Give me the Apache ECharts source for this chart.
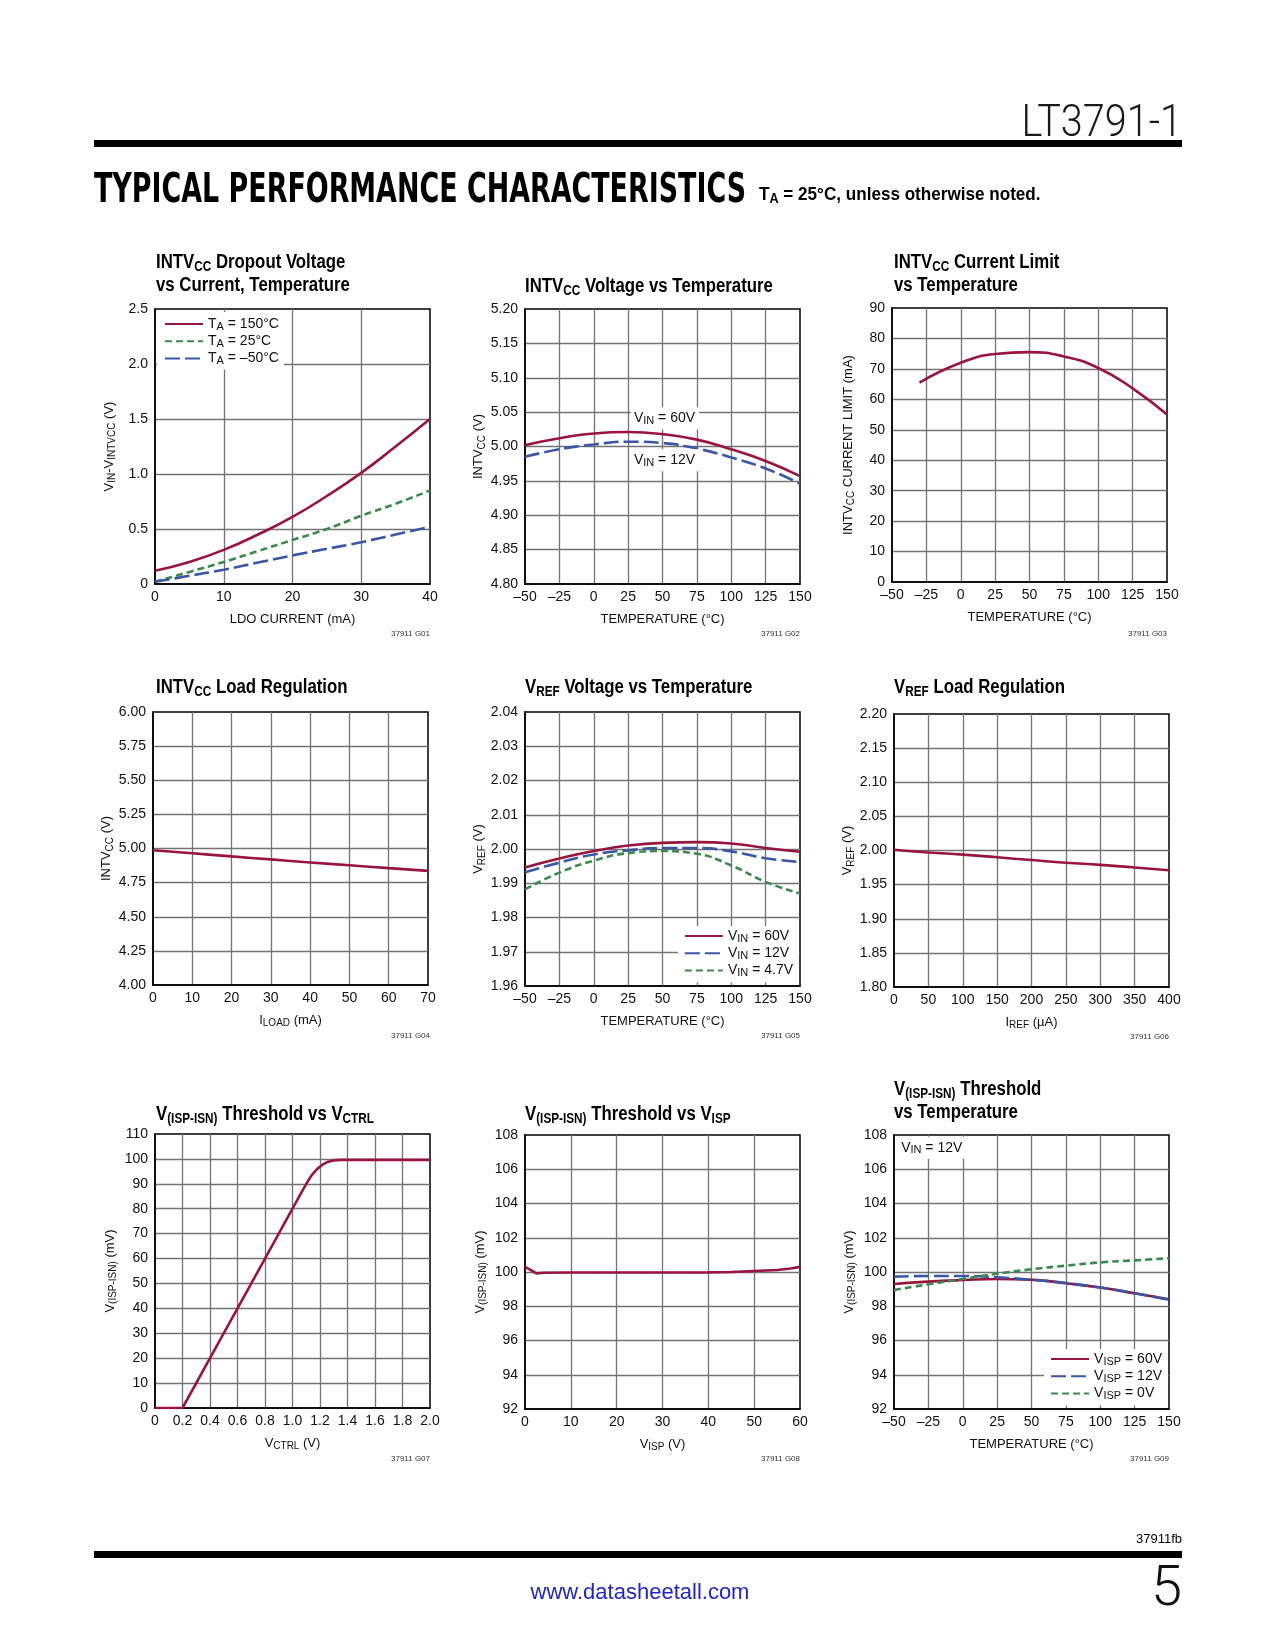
<!DOCTYPE html>
<html><head><meta charset="utf-8">
<script src="https://cdn.jsdelivr.net/npm/echarts@6/dist/echarts.min.js"></script>
<style>html,body{margin:0;padding:0;background:#fff}#c{width:1275px;height:1650px}</style>
</head><body><div id="c"></div>
<script>
// ---------- DATA ----------
// G01 dropout voltage vs LDO current
const ldoCurrent = [0, 5, 10, 15, 20, 25, 30, 35, 40];
const drop150 = [0.12, 0.20, 0.31, 0.45, 0.61, 0.80, 1.01, 1.25, 1.50];
const drop25  = [0.02, 0.11, 0.20, 0.30, 0.40, 0.50, 0.62, 0.73, 0.85];
const dropM50 = [0.02, 0.075, 0.13, 0.195, 0.26, 0.32, 0.38, 0.45, 0.52];
// G02 INTVCC vs temperature
const tempX = [-50, -25, 0, 25, 50, 75, 100, 125, 150];
const intv60 = [5.002, 5.012, 5.019, 5.021, 5.018, 5.010, 4.996, 4.979, 4.957];
const intv12 = [4.985, 4.996, 5.003, 5.007, 5.005, 4.997, 4.984, 4.968, 4.946];
const g02Labels = [[27, 5.041, 'VIN = 60V'], [27, 4.980, 'VIN = 12V']];
// G03 current limit vs temperature
const limTemp = [-30, 0, 25, 50, 75, 100, 125, 150];
const limCurrent = [65.5, 72.0, 74.9, 75.5, 74.1, 70.3, 63.6, 55.0];
// G04 INTVCC load regulation
const loadI = [0, 10, 20, 30, 40, 50, 60, 70];
const loadV = [4.987, 4.965, 4.942, 4.920, 4.898, 4.877, 4.856, 4.836];
// G05 VREF vs temperature
const vref60 = [1.9946, 1.9972, 1.9994, 2.0010, 2.0018, 2.0020, 2.0016, 2.0003, 1.9992];
const vref12 = [1.9932, 1.9960, 1.9984, 1.9996, 2.0003, 2.0003, 1.9993, 1.9973, 1.9962];
const vref47 = [1.9882, 1.9931, 1.9966, 1.9988, 1.9994, 1.9986, 1.9952, 1.9904, 1.9870];
// G06 VREF load regulation
const irefX = [0, 50, 100, 150, 200, 250, 300, 350, 400];
const vrefLoad = [2.001, 1.997, 1.994, 1.990, 1.986, 1.982, 1.979, 1.975, 1.971];
// G07 threshold vs VCTRL
const vctrl = [0, 0.1, 0.2, 0.4, 0.6, 0.8, 1.0, 1.1, 1.14, 1.18, 1.22, 1.26, 1.3, 1.35, 1.6, 1.8, 2.0];
const vthCtrl = [0, 0, 0, 20, 40, 60, 80, 90, 93.5, 96, 97.8, 98.9, 99.4, 99.6, 99.6, 99.6, 99.6];
// G08 threshold vs VISP
const vispX = [0, 1, 2.5, 4, 10, 20, 30, 40, 45, 50, 55, 58, 60];
const vthIsp = [100.3, 100.15, 99.92, 99.96, 99.97, 99.97, 99.97, 99.98, 100.0, 100.06, 100.12, 100.2, 100.3];
// G09 threshold vs temperature
const isp60 = [99.30, 99.44, 99.53, 99.59, 99.55, 99.34, 99.09, 98.76, 98.41];
const isp12 = [99.73, 99.77, 99.77, 99.69, 99.55, 99.36, 99.09, 98.76, 98.38];
const isp0  = [98.95, 99.28, 99.59, 99.90, 100.16, 100.37, 100.56, 100.68, 100.80];
const g09Labels = [[-47, 107.25, 'VIN = 12V']];

// ---------- STYLE ----------
const FF = "'Liberation Sans Narrow','Liberation Sans',Arial,sans-serif";
const RED = '#99153d', BLUE = '#3a57a7', GREEN = '#3a8b4b';
const INK = '#111';
const RA = {
  n: {fontFamily: FF, fontSize: 14, lineHeight: 16, color: INK},
  s: {fontFamily: FF, fontSize: 11, lineHeight: 6, verticalAlign: 'bottom', color: INK}
};
const RAN = {
  n: {fontFamily: FF, fontSize: 13, lineHeight: 16, color: INK},
  s: {fontFamily: FF, fontSize: 10, lineHeight: 6, verticalAlign: 'bottom', color: INK}
};
const RT = {
  b: {fontFamily: FF, fontSize: 20, fontWeight: 'bold', lineHeight: 23, fill: '#000'},
  s: {fontFamily: FF, fontSize: 14, fontWeight: 'bold', lineHeight: 12, verticalAlign: 'bottom', fill: '#000'}
};
const GRIDS = [[155,309,275,275],[525,309,275,275],[892,308,275,274],
               [153,712,275,273],[525,712,275,274],[894,714,275,273],
               [155,1134,275,274],[525,1135,275,274],[894,1135,275,274]];
const TITLES = [
  ['{b|INTV}{s|CC}{b| Dropout Voltage}\n{b|vs Current, Temperature}', 156, 251],
  ['{b|INTV}{s|CC}{b| Voltage vs Temperature}', 525, 275],
  ['{b|INTV}{s|CC}{b| Current Limit}\n{b|vs Temperature}', 894, 251],
  ['{b|INTV}{s|CC}{b| Load Regulation}', 156, 676],
  ['{b|V}{s|REF}{b| Voltage vs Temperature}', 525, 676],
  ['{b|V}{s|REF}{b| Load Regulation}', 894, 676],
  ['{b|V}{s|(ISP-ISN)}{b| Threshold vs V}{s|CTRL}', 156, 1103],
  ['{b|V}{s|(ISP-ISN)}{b| Threshold vs V}{s|ISP}', 525, 1103],
  ['{b|V}{s|(ISP-ISN)}{b| Threshold}\n{b|vs Temperature}', 894, 1078]
];
const minus = v => v < 0 ? '\u2013' + Math.abs(v) : String(v);
const f1 = v => v === 0 ? '0' : v.toFixed(1);
const f2 = v => v.toFixed(2);

function mkX(gi, min, max, interval, name, fmt) {
  return {gridIndex: gi, type: 'value', min, max, interval,
    name, nameLocation: 'middle', nameGap: 27, nameTextStyle: {rich: RAN},
    axisLine: {show: true, onZero: false, lineStyle: {color: '#000', width: 1.5}},
    axisTick: {show: false},
    splitLine: {show: true, showMinLine: false, showMaxLine: false, lineStyle: {color: '#737373', width: 1.3}},
    axisLabel: {fontFamily: FF, fontSize: 14, color: INK, margin: 6, formatter: fmt || minus}};
}
function mkY(gi, min, max, interval, name, fmt, gap) {
  return {gridIndex: gi, type: 'value', min, max, interval,
    name, nameLocation: 'middle', nameGap: gap || 37, nameTextStyle: {rich: RAN},
    axisLine: {show: true, onZero: false, lineStyle: {color: '#000', width: 1.5}},
    axisTick: {show: false},
    splitLine: {show: true, showMinLine: false, showMaxLine: false, lineStyle: {color: '#737373', width: 1.3}},
    axisLabel: {fontFamily: FF, fontSize: 14, color: INK, margin: 7, formatter: fmt || String}};
}
const zip = (xs, ys) => xs.map((x, i) => [x, ys[i]]);
function line(gi, name, xs, ys, color, type, smooth) {
  return {type: 'line', name, xAxisIndex: gi, yAxisIndex: gi, data: zip(xs, ys),
    symbol: 'none', smooth: smooth === undefined ? true : smooth, silent: true,
    lineStyle: {color, width: 2.6, type}, itemStyle: {color}, animation: false};
}
function labels(gi, arr) {
  return {type: 'scatter', xAxisIndex: gi, yAxisIndex: gi, symbolSize: 0, silent: true, z: 6,
    itemStyle: {opacity: 1, color: INK},
    data: arr.map(d => ({value: [d[0], d[1]], txt: d[2]})),
    label: {show: true, position: 'right', distance: 0, color: INK, opacity: 1, backgroundColor: '#fff', padding: [3, 4, 3, 3],
      formatter: p => '{n|V}{s|IN}{n|' + p.data.txt.slice(3) + '}', rich: RA}, animation: false};
}
const LEG = {
  'TA = 150°C': '{n|T}{s|A}{n| = 150°C}', 'TA = 25°C': '{n|T}{s|A}{n| = 25°C}', 'TA = \u201350°C': '{n|T}{s|A}{n| = \u201350°C}',
  'VIN = 60V': '{n|V}{s|IN}{n| = 60V}', 'VIN = 12V': '{n|V}{s|IN}{n| = 12V}', 'VIN = 4.7V': '{n|V}{s|IN}{n| = 4.7V}',
  'VISP = 60V': '{n|V}{s|ISP}{n| = 60V}', 'VISP = 12V': '{n|V}{s|ISP}{n| = 12V}', 'VISP = 0V': '{n|V}{s|ISP}{n| = 0V}'
};
function leg(data, pos, padding) {
  return Object.assign({data, orient: 'vertical', itemWidth: 38, itemHeight: 12, itemGap: 2.2,
    padding, backgroundColor: '#fff', selectedMode: false, borderRadius: 0,
    itemStyle: {opacity: 0}, textStyle: {rich: RA}, formatter: n => LEG[n]}, pos);
}

// fit header text width using the canvas text metrics
const HEAD = 'TYPICAL PERFORMANCE CHARACTERISTICS';
const HEAD_FONT = "bold 40px 'DejaVu Sans', sans-serif";
const mctx = document.createElement('canvas').getContext('2d');
mctx.font = HEAD_FONT;
const headScale = 652 / mctx.measureText(HEAD).width;

const titleGraphics = TITLES.map(t => ({type: 'text', x: t[1], y: t[2], scaleX: 0.84,
  style: {text: t[0], rich: RT, verticalAlign: 'top'}}));
const code = (x, y, t) => ({type: 'text', x, y, style: {text: t, font: '8px ' + FF, fill: '#333', align: 'right', verticalAlign: 'middle'}});

const option = {
  animation: false,
  backgroundColor: '#fff',
  grid: GRIDS.map(g => ({left: g[0], top: g[1], width: g[2], height: g[3], show: true, borderColor: '#000', borderWidth: 1.5})),
  xAxis: [
    mkX(0, 0, 40, 10, '{n|LDO CURRENT (mA)}'),
    mkX(1, -50, 150, 25, '{n|TEMPERATURE (°C)}'),
    mkX(2, -50, 150, 25, '{n|TEMPERATURE (°C)}'),
    mkX(3, 0, 70, 10, '{n|I}{s|LOAD}{n| (mA)}'),
    mkX(4, -50, 150, 25, '{n|TEMPERATURE (°C)}'),
    mkX(5, 0, 400, 50, '{n|I}{s|REF}{n| (µA)}'),
    mkX(6, 0, 2.0, 0.2, '{n|V}{s|CTRL}{n| (V)}', f1),
    mkX(7, 0, 60, 10, '{n|V}{s|ISP}{n| (V)}'),
    mkX(8, -50, 150, 25, '{n|TEMPERATURE (°C)}')
  ],
  yAxis: [
    mkY(0, 0, 2.5, 0.5, '{n|V}{s|IN}{n|-V}{s|INTVCC}{n| (V)}', f1, 38),
    mkY(1, 4.80, 5.20, 0.05, '{n|INTV}{s|CC}{n| (V)}', f2, 38),
    mkY(2, 0, 90, 10, '{n|INTV}{s|CC}{n| CURRENT LIMIT (mA)}', String, 36),
    mkY(3, 4.00, 6.00, 0.25, '{n|INTV}{s|CC}{n| (V)}', f2, 38),
    mkY(4, 1.96, 2.04, 0.01, '{n|V}{s|REF}{n| (V)}', f2, 38),
    mkY(5, 1.80, 2.20, 0.05, '{n|V}{s|REF}{n| (V)}', f2, 38),
    mkY(6, 0, 110, 10, '{n|V}{s|(ISP-ISN)}{n| (mV)}', String, 37),
    mkY(7, 92, 108, 2, '{n|V}{s|(ISP-ISN)}{n| (mV)}', String, 37),
    mkY(8, 92, 108, 2, '{n|V}{s|(ISP-ISN)}{n| (mV)}', String, 37)
  ],
  legend: [
    leg(['TA = 150°C', 'TA = 25°C', 'TA = \u201350°C'], {left: 157, top: 312}, [5, 5, 3, 7]),
    leg(['VIN = 60V', 'VIN = 12V', 'VIN = 4.7V'], {right: 476, top: 926}, [3, 6, 4, 6]),
    leg(['VISP = 60V', 'VISP = 12V', 'VISP = 0V'], {right: 107, top: 1349}, [3, 6, 4, 6])
  ],
  series: [
    line(0, 'TA = 150°C', ldoCurrent, drop150, RED, 'solid'),
    line(0, 'TA = 25°C', ldoCurrent, drop25, GREEN, [7, 4]),
    line(0, 'TA = \u201350°C', ldoCurrent, dropM50, BLUE, [15, 5]),
    line(1, 'g02 60V', tempX, intv60, RED, 'solid'),
    line(1, 'g02 12V', tempX, intv12, BLUE, [15, 5]),
    labels(1, g02Labels),
    line(2, 'g03', limTemp, limCurrent, RED, 'solid'),
    line(3, 'g04', loadI, loadV, RED, 'solid'),
    line(4, 'VIN = 60V', tempX, vref60, RED, 'solid'),
    line(4, 'VIN = 12V', tempX, vref12, BLUE, [15, 5]),
    line(4, 'VIN = 4.7V', tempX, vref47, GREEN, [7, 4]),
    line(5, 'g06', irefX, vrefLoad, RED, 'solid'),
    line(6, 'g07', vctrl, vthCtrl, RED, 'solid', false),
    line(7, 'g08', vispX, vthIsp, RED, 'solid', false),
    line(8, 'VISP = 60V', tempX, isp60, RED, 'solid'),
    line(8, 'VISP = 12V', tempX, isp12, BLUE, [15, 5]),
    line(8, 'VISP = 0V', tempX, isp0, GREEN, [7, 4]),
    labels(8, g09Labels)
  ],
  graphic: [
    {type: 'text', x: 1182, y: 125, scaleX: 0.9, style: {text: 'LT3791-1', font: "300 44px Roboto, 'Liberation Sans', sans-serif", fill: '#1a1a1a', align: 'right', verticalAlign: 'middle'}},
    {type: 'rect', shape: {x: 94, y: 140, width: 1088, height: 7}, style: {fill: '#000'}},
    {type: 'text', x: 94, y: 192, scaleX: headScale, style: {text: HEAD, font: HEAD_FONT, fill: '#000', verticalAlign: 'middle'}},
    {type: 'text', x: 759, y: 184, scaleX: 0.9, style: {text: '{n|T}{s|A}{n| = 25°C, unless otherwise noted.}',
      rich: {n: {fontFamily: FF, fontSize: 19, fontWeight: 'bold', lineHeight: 22, fill: '#000'},
             s: {fontFamily: FF, fontSize: 14, fontWeight: 'bold', lineHeight: 10, verticalAlign: 'bottom', fill: '#000'}}}},
    {type: 'rect', shape: {x: 94, y: 1551, width: 1088, height: 7}, style: {fill: '#000'}},
    {type: 'text', x: 1182, y: 1539, style: {text: '37911fb', font: '13px ' + FF, fill: '#000', align: 'right', verticalAlign: 'middle'}},
    {type: 'text', x: 640, y: 1593, style: {text: 'www.datasheetall.com', font: '22px ' + FF, fill: '#2323c8', align: 'center', verticalAlign: 'middle'}},
    {type: 'text', x: 1182, y: 1591, style: {text: '5', font: "300 56px Roboto, 'Liberation Sans', sans-serif", fill: '#111', align: 'right', verticalAlign: 'middle'}},
    code(430, 634, '37911 G01'), code(800, 634, '37911 G02'), code(1167, 634, '37911 G03'),
    code(430, 1036, '37911 G04'), code(800, 1036, '37911 G05'), code(1169, 1037, '37911 G06'),
    code(430, 1459, '37911 G07'), code(800, 1459, '37911 G08'), code(1169, 1459, '37911 G09')
  ].concat(titleGraphics)
};
const chart = echarts.init(document.getElementById('c'));
chart.setOption(option);
</script>
</body></html>
